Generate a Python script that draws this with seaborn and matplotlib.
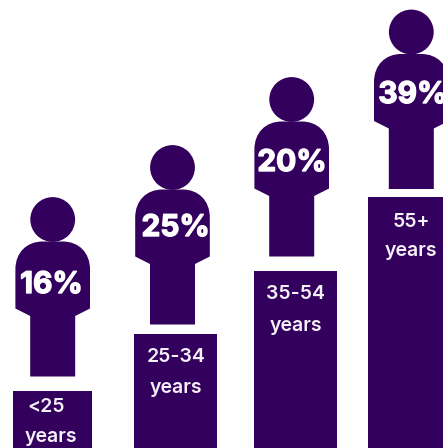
import matplotlib
matplotlib.use('Agg')
import matplotlib.pyplot as plt
from matplotlib.patches import Circle, PathPatch
from matplotlib.path import Path
import matplotlib.patheffects as pe
import seaborn as sns

# the chart values
age_groups = ['<25', '25-34', '35-54', '55+']
shares = [16, 25, 20, 39]
step_heights = [57, 114, 177, 251]

PURPLE = '#33005e'

# layout in pixels
bar_left = [13, 134, 254, 368]
bar_width = [79, 83, 83, 80]
person_x = [52.7, 172.5, 291.7, 411.3]
person_gap = [14.5, 9.5, 14.5, 8]
pct_dx = [-1.3, 3.2, 0.3, 1.5]
pct_y = [163, 220, 285, 353]
label_x = [[46, 51], [176, 176], [296, 296], [411, 411]]
label_y = [[41, 11], [91, 60], [154, 122], [226, 197]]

sns.set_style('white')
plt.rcParams['font.family'] = ['Inter', 'DejaVu Sans']

fig = plt.figure(figsize=(4.43, 4.48), dpi=100)
ax = fig.add_axes([0, 0, 1, 1])

# y axis runs in pixels from the bottom, bars get pixel-wide slots afterwards
sns.barplot(x=age_groups, y=step_heights, color=PURPLE, saturation=1, ax=ax)
for i, bar in enumerate(ax.patches):
    bar.set_x(bar_left[i])
    bar.set_width(bar_width[i])
    bar.set_linewidth(0)
    bar.set_antialiased(False)

ax.set_xlim(0, 443)
ax.set_ylim(0, 448)
ax.axis('off')


def draw_person(cx, base):
    verts = [
        (cx - 22.5, base), (cx + 22.5, base), (cx + 22.5, base + 60.5),
        (cx + 37.3, base + 68), (cx + 37.3, base + 107),
        (cx + 37.3, base + 124), (cx + 26, base + 135), (cx + 10, base + 135),
        (cx - 10, base + 135),
        (cx - 26, base + 135), (cx - 37.3, base + 124), (cx - 37.3, base + 107),
        (cx - 37.3, base + 68), (cx - 22.5, base + 60.5), (cx - 22.5, base),
    ]
    codes = [Path.MOVETO, Path.LINETO, Path.LINETO, Path.LINETO, Path.LINETO,
             Path.CURVE4, Path.CURVE4, Path.CURVE4, Path.LINETO,
             Path.CURVE4, Path.CURVE4, Path.CURVE4,
             Path.LINETO, Path.LINETO, Path.LINETO]
    ax.add_patch(PathPatch(Path(verts, codes), facecolor=PURPLE, edgecolor='none'))
    ax.add_patch(Circle((cx, base + 157), 22.4, facecolor=PURPLE, edgecolor='none'))


for i, share in enumerate(shares):
    base = step_heights[i] + person_gap[i]
    draw_person(person_x[i], base)
    ax.text(person_x[i] + pct_dx[i], pct_y[i], f'{share}%', color='white',
            fontsize=21.5, fontweight='bold', ha='center', va='center',
            path_effects=[pe.withStroke(linewidth=1.0, foreground='white')])
    ax.text(label_x[i][0], label_y[i][0], age_groups[i], color='#f4f0f7',
            fontsize=14, fontweight='semibold', ha='center', va='center')
    ax.text(label_x[i][1], label_y[i][1], 'years', color='#f4f0f7',
            fontsize=14, fontweight='semibold', ha='center', va='center')

fig.savefig('out.png', dpi=100)
